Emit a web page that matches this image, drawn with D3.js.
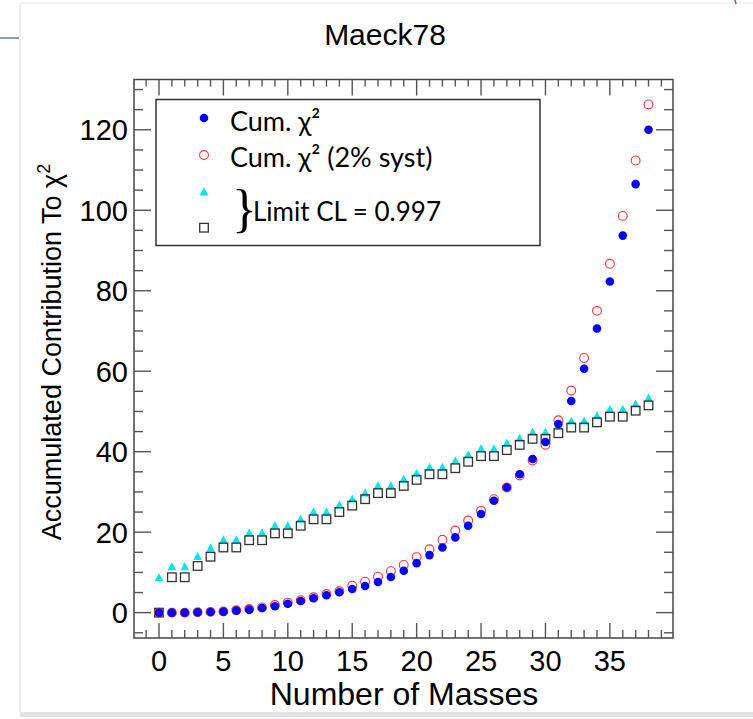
<!DOCTYPE html>
<html>
<head>
<meta charset="utf-8">
<script src="https://cdn.jsdelivr.net/npm/d3@7"></script>
<style>
  html, body { margin: 0; padding: 0; background: #fff; }
  svg { display: block; }
</style>
</head>
<body>
<svg id="chart"></svg>
<script>
const width = 753, height = 719;

// --- data (x = number of masses 0..38) ---
const masses = d3.range(0, 39);
const cumChi2 = [0, 0, 0, 0.1, 0.17, 0.25, 0.5, 0.75, 1.17, 1.6, 2.2, 2.9, 3.57, 4.31, 5.06, 5.89, 6.63,
  7.63, 8.87, 10.4, 12.3, 14.3, 16.2, 18.7, 21.6, 24.5, 27.8, 31.1, 34.4, 38.2, 42.4, 46.9, 52.6, 60.6,
  70.6, 82.3, 93.7, 106.5, 120.0];
const cumChi2Syst = [0, 0, 0, 0.1, 0.2, 0.3, 0.6, 0.9, 1.3, 1.9, 2.5, 3.1, 3.83, 4.64, 5.3, 6.7, 7.7,
  8.94, 10.3, 11.85, 13.8, 15.75, 18.1, 20.4, 22.9, 25.3, 28.2, 31.1, 34.1, 37.8, 41.7, 47.8, 55.2, 63.3,
  75.0, 86.7, 98.6, 112.4, 126.3];
const limitTri = [8.7, 11.4, 11.4, 13.9, 16.0, 18.1, 18.1, 19.8, 19.8, 21.6, 21.6, 23.2, 25.0, 25.0, 26.7,
  28.2, 29.7, 31.5, 31.5, 33.1, 34.6, 36.1, 36.1, 37.7, 39.2, 40.7, 40.7, 42.1, 43.3, 44.8, 44.8, 46.4,
  47.6, 47.6, 48.9, 50.5, 50.5, 51.8, 53.3];
const limitSq = [0, 8.8, 8.8, 11.6, 13.9, 16.2, 16.2, 18.0, 18.0, 19.7, 19.7, 21.6, 23.2, 23.2, 25.0,
  26.6, 28.2, 29.7, 29.7, 31.5, 33.0, 34.4, 34.4, 35.9, 37.5, 38.9, 38.9, 40.4, 41.7, 43.2, 43.2, 44.6,
  46.0, 46.0, 47.3, 48.7, 48.7, 50.2, 51.5];
const xTicks = [0, 5, 10, 15, 20, 25, 30, 35];
const yTicks = [0, 20, 40, 60, 80, 100, 120];
const legendLabels = ["Cum. χ²", "Cum. χ² (2% syst)", "Limit CL = 0.997"];

const svg = d3.select("#chart").attr("width", width).attr("height", height);

// slide decoration round the picture
svg.append("rect").attr("x", 20).attr("y", 712).attr("width", 733).attr("height", 5).attr("fill", "#e4e4e4");
svg.append("line").attr("x1", 20).attr("x2", 20).attr("y1", 4).attr("y2", 712).attr("stroke", "#efefef").attr("stroke-width", 2);
svg.append("line").attr("x1", 20).attr("x2", 753).attr("y1", 3).attr("y2", 3).attr("stroke", "#f2f2f2").attr("stroke-width", 2);
svg.append("line").attr("x1", 0).attr("x2", 19).attr("y1", 38).attr("y2", 38).attr("stroke", "#5a78b8").attr("stroke-width", 1.5);
svg.append("line").attr("x1", 735).attr("x2", 736).attr("y1", 0).attr("y2", 4).attr("stroke", "#e03030").attr("stroke-width", 1.5);

// scales
const plot = { left: 134, right: 673, top: 79.5, bottom: 638 };
const x = d3.scaleLinear().domain([-1.94, 39.9]).range([plot.left, plot.right]);
const y = d3.scaleLinear().domain([-6.3, 132.5]).range([plot.bottom, plot.top]);

const axisFont = "'Liberation Sans', Arial, Helvetica, sans-serif";
const tickColor = "#555";

// frame
svg.append("rect")
  .attr("x", plot.left).attr("y", plot.top)
  .attr("width", plot.right - plot.left).attr("height", plot.bottom - plot.top)
  .attr("fill", "none").attr("stroke", "#444").attr("stroke-width", 1.5);

const g = svg.append("g");

// x ticks: minor every 1, major every 5 (bottom and top)
d3.range(-1, 40).forEach(v => {
  const major = v % 5 === 0;
  const px = x(v);
  g.append("line").attr("x1", px).attr("x2", px)
    .attr("y1", plot.bottom).attr("y2", plot.bottom - (major ? 15 : 8))
    .attr("stroke", tickColor).attr("stroke-width", 1.4);
  g.append("line").attr("x1", px).attr("x2", px)
    .attr("y1", plot.top).attr("y2", plot.top + (major ? 16 : 7))
    .attr("stroke", tickColor).attr("stroke-width", 1.4);
});
// y ticks: minor every 5, major every 20 (left and right)
d3.range(-5, 131, 5).forEach(v => {
  const major = v % 20 === 0;
  const py = y(v);
  g.append("line").attr("x1", plot.left).attr("x2", plot.left + (major ? 17 : 9))
    .attr("y1", py).attr("y2", py).attr("stroke", tickColor).attr("stroke-width", 1.4);
  g.append("line").attr("x1", plot.right).attr("x2", plot.right - (major ? 17 : 9))
    .attr("y1", py).attr("y2", py).attr("stroke", tickColor).attr("stroke-width", 1.4);
});

// tick labels
g.selectAll("text.xt").data(xTicks).join("text")
  .attr("class", "xt")
  .attr("x", d => x(d)).attr("y", 671)
  .attr("text-anchor", "middle")
  .style("font-family", axisFont).style("font-size", "29px")
  .text(d => d);
g.selectAll("text.yt").data(yTicks).join("text")
  .attr("class", "yt")
  .attr("x", 128).attr("y", d => y(d) + 10.5)
  .attr("text-anchor", "end")
  .style("font-family", axisFont).style("font-size", "29px")
  .text(d => d);

// titles
svg.append("text").attr("x", 385).attr("y", 45).attr("text-anchor", "middle")
  .style("font-family", axisFont).style("font-size", "30px").text("Maeck78");
svg.append("text").attr("x", 404).attr("y", 705).attr("text-anchor", "middle")
  .style("font-family", axisFont).style("font-size", "32px").text("Number of Masses");
const yl = svg.append("text")
  .attr("transform", "translate(61,352) rotate(-90)")
  .attr("text-anchor", "middle")
  .style("font-family", axisFont).style("font-size", "27px");
yl.append("tspan").text("Accumulated Contribution To χ");
yl.append("tspan").attr("dy", -11).style("font-size", "18px").text("2");

// markers
const triPath = (cx, cy, s) => `M${cx},${cy - s * 0.55}L${cx + s / 2},${cy + s * 0.4}L${cx - s / 2},${cy + s * 0.4}Z`;

const marks = svg.append("g");
marks.selectAll("path.tri").data(masses).join("path")
  .attr("class", "tri")
  .attr("d", d => triPath(x(d), y(limitTri[d]), 8.5))
  .attr("fill", "#00e5ee");
marks.selectAll("rect.sq").data(masses).join("rect")
  .attr("class", "sq")
  .attr("x", d => x(d) - 4.3).attr("y", d => y(limitSq[d]) - 4.3)
  .attr("width", 8.6).attr("height", 8.6)
  .attr("fill", "none").attr("stroke", "#333").attr("stroke-width", 1.3);
marks.selectAll("circle.syst").data(masses).join("circle")
  .attr("class", "syst")
  .attr("cx", d => x(d)).attr("cy", d => y(cumChi2Syst[d])).attr("r", 4.4)
  .attr("fill", "none").attr("stroke", "#ff3030").attr("stroke-width", 1.1);
marks.selectAll("circle.cum").data(masses).join("circle")
  .attr("class", "cum")
  .attr("cx", d => x(d)).attr("cy", d => y(cumChi2[d])).attr("r", 4.3)
  .attr("fill", "#0000ff");

// legend
const legFont = "Lato, 'Open Sans', sans-serif";
const leg = svg.append("g");
leg.append("rect").attr("x", 156).attr("y", 99.5).attr("width", 384).attr("height", 146)
  .attr("fill", "#fff").attr("stroke", "#333").attr("stroke-width", 1.5);
leg.append("circle").attr("cx", 204).attr("cy", 118).attr("r", 4.3).attr("fill", "#0000ff");
leg.append("circle").attr("cx", 204).attr("cy", 155).attr("r", 4.4)
  .attr("fill", "none").attr("stroke", "#ff3030").attr("stroke-width", 1.1);
leg.append("path").attr("d", triPath(204, 192, 8.5)).attr("fill", "#00e5ee");
leg.append("rect").attr("x", 199.7).attr("y", 223.4).attr("width", 8.6).attr("height", 8.6)
  .attr("fill", "none").attr("stroke", "#333").attr("stroke-width", 1.3);
leg.append("text").attr("x", 230).attr("y", 131).style("font-family", legFont).style("font-size", "27px")
  .text(legendLabels[0]);
leg.append("text").attr("x", 230).attr("y", 167).style("font-family", legFont).style("font-size", "27px")
  .text(legendLabels[1]);
leg.append("text").attr("x", 232).attr("y", 226)
  .style("font-family", "'Liberation Serif', 'DejaVu Serif', serif").style("font-size", "52px")
  .text("}");
leg.append("text").attr("x", 253).attr("y", 221).style("font-family", legFont).style("font-size", "26px")
  .text(legendLabels[2]);
</script>
</body>
</html>
